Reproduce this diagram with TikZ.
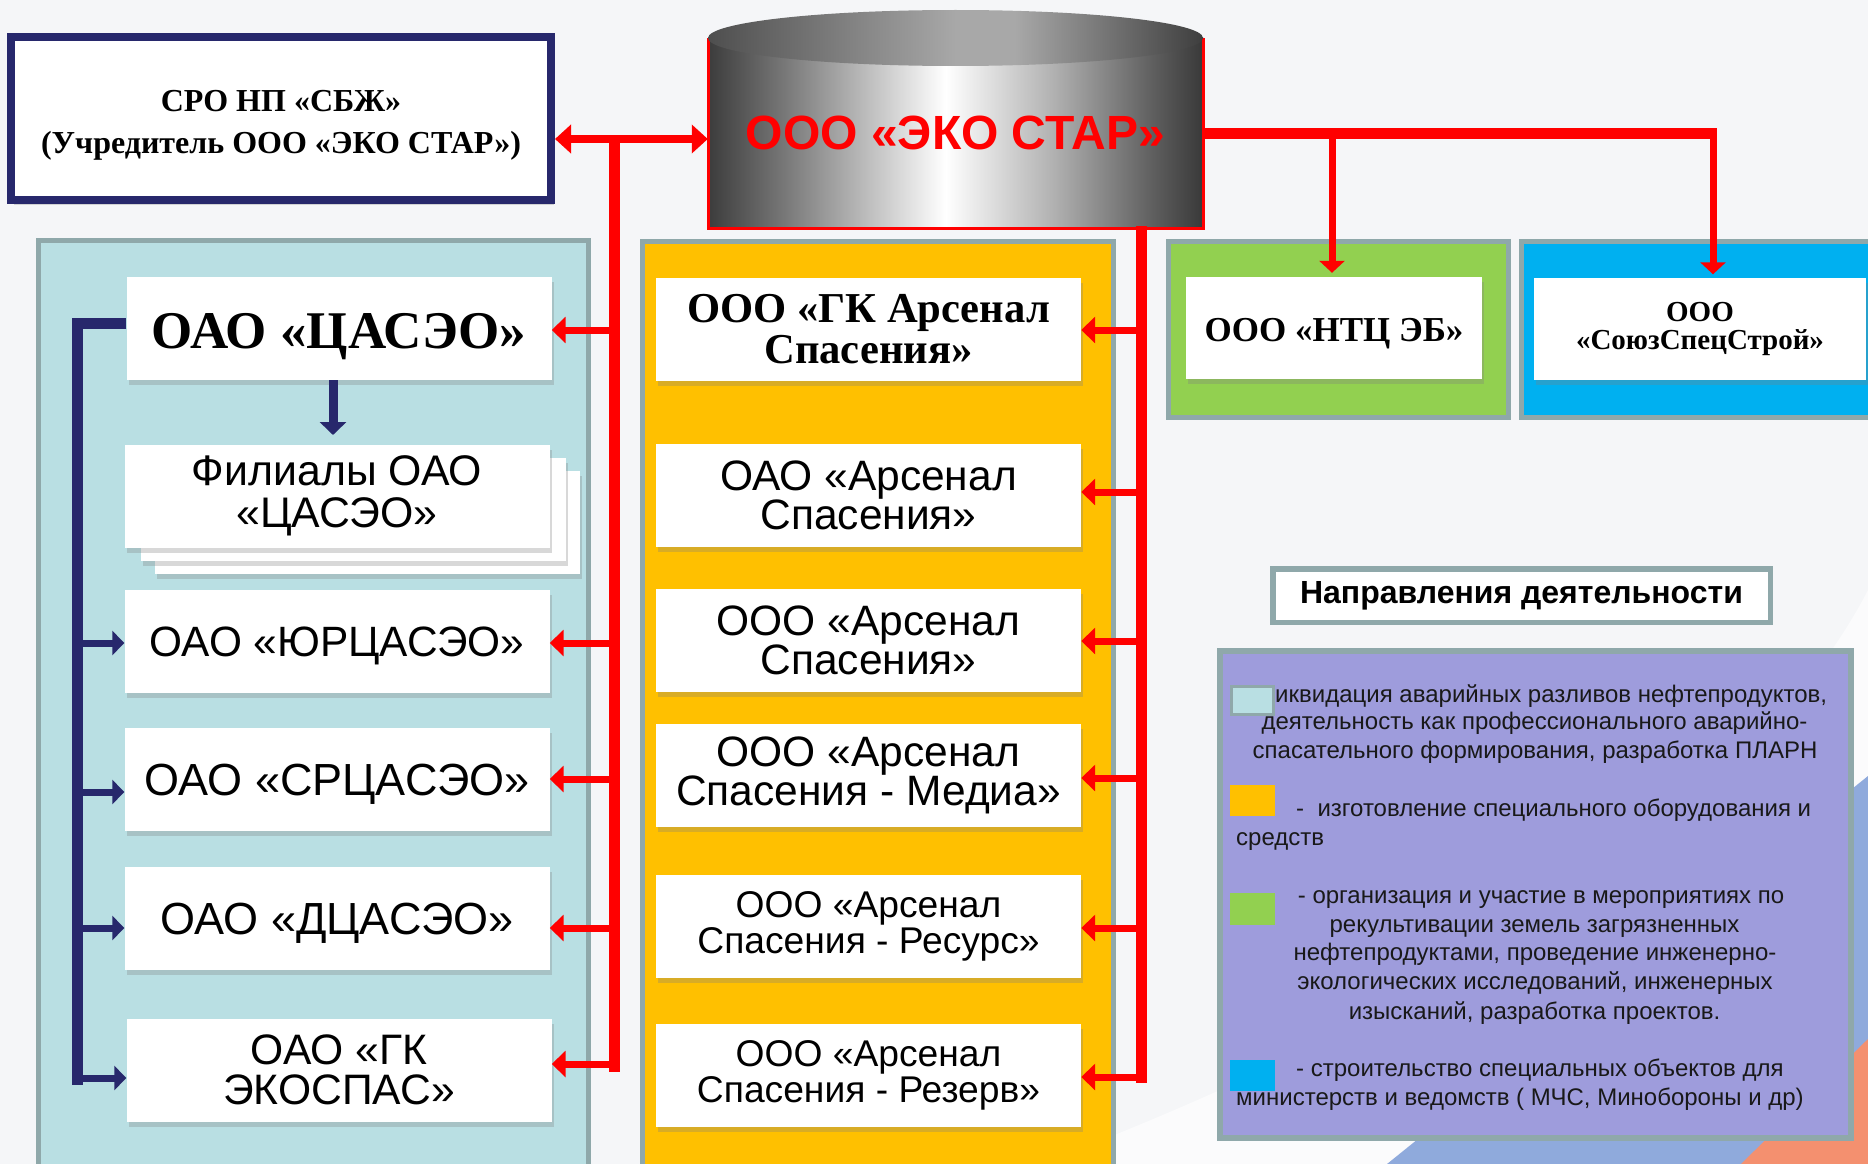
\documentclass[tikz,border=0pt]{standalone}
\usepackage{fontspec}
\setmainfont{Liberation Serif}
\setsansfont{Liberation Sans}
\newfontfamily\tnr{Liberation Serif}
\newfontfamily\ars{Liberation Sans}
\usetikzlibrary{arrows.meta,shadows,calc}
\newcommand{\myfs}[2]{\fontsize{#1}{#2}\selectfont}

\definecolor{cBg}{HTML}{F5F6F8}
\definecolor{cTeal}{HTML}{B9DFE3}
\definecolor{cEdge}{HTML}{8FA8AA}
\definecolor{cOrange}{HTML}{FFC000}
\definecolor{cGreen}{HTML}{92D050}
\definecolor{cBlue}{HTML}{00B0F0}
\definecolor{cLav}{HTML}{9E9CDC}
\definecolor{cNavy}{HTML}{27286C}
\definecolor{cRed}{HTML}{FF0000}
\definecolor{cDecoBlue}{HTML}{8FAADC}
\definecolor{cSalmon}{HTML}{F4906F}
\definecolor{cyA}{HTML}{3C3C3C}
\definecolor{cyB}{HTML}{7A7A7A}
\definecolor{cyC}{HTML}{B0B0B0}
\definecolor{cyD}{HTML}{5E5E5E}
\definecolor{cyE}{HTML}{393939}
\definecolor{tpA}{HTML}{4E4E4E}
\definecolor{tpB}{HTML}{A8A8A8}
\definecolor{tpC}{HTML}{3E3E3E}

\pgfdeclarehorizontalshading{cylbody}{100bp}{color(0bp)=(cyA); color(25bp)=(cyA); color(33bp)=(cyB); color(49bp)=(white); color(60bp)=(cyC); color(70bp)=(cyD); color(75bp)=(cyE); color(100bp)=(cyE)}
\pgfdeclarehorizontalshading{cyltop}{100bp}{color(0bp)=(tpA); color(25bp)=(tpA); color(50bp)=(tpB); color(56bp)=(tpB); color(75bp)=(tpC); color(100bp)=(tpC)}

\begin{document}
\begin{tikzpicture}[x=1pt,y=-1pt,
  panel/.style={draw=cEdge, line width=5pt},
  wbox/.style={fill=white, inner sep=2pt, align=center, minimum width=425pt, minimum height=103pt,
     drop shadow={shadow xshift=2pt, shadow yshift=-5pt, opacity=0.3}},
  redbus/.style={draw=cRed, line width=11pt},
  redbr/.style={draw=cRed, line width=7pt, -{Triangle[length=14pt,width=26pt]}},
  navybus/.style={draw=cNavy, line width=11pt},
  navybr/.style={draw=cNavy, line width=7pt, -{Triangle[length=12pt,width=24pt]}},
  swatch/.style={minimum width=45pt, minimum height=31pt, inner sep=0pt},
  ltxt/.style={inner sep=0pt, font=\ars\myfs{24}{28}, text=black!90}
]
\useasboundingbox (0,0) rectangle (1868,1164);
\fill[cBg] (0,0) rectangle (1868,1164);
% background decoration
\fill[white, opacity=0.6] (1040,1164) .. controls (1450,1010) and (1760,800) .. (1868,590) -- (1868,1164) -- cycle;
\fill[cDecoBlue] (1387,1164) -- (1868,776) -- (1868,1164) -- cycle;
\fill[cSalmon] (1741,1164) -- (1868,1039) -- (1868,1164) -- cycle;

% panels
\draw[panel, fill=cTeal] (38.5,240.5) rectangle (588.5,1180);
\draw[panel, fill=cOrange] (642.5,241.5) rectangle (1113.5,1180);
\draw[panel, fill=cGreen] (1168.5,241.5) rectangle (1508.5,417.5);
\draw[panel, fill=cBlue] (1521.5,241.5) rectangle (1880,417.5);

% cylinder
\shade[shading=cylbody] (708,38) rectangle (1203,228);
\draw[cRed, line width=3pt] (708,38) -- (708,228) -- (1203,228) -- (1203,38);
\shade[shading=cyltop] (955.5,38) ellipse [x radius=247.5, y radius=28];
\node[inner sep=0pt, minimum width=495pt, minimum height=190pt, text=cRed,
      font=\ars\bfseries\myfs{48}{50}] (eco) at (955.5,133) {ООО «ЭКО СТАР»};

% SRO box
\node[draw=cNavy, line width=8pt, fill=white, minimum width=540pt, minimum height=163pt,
      drop shadow={shadow xshift=3pt, shadow yshift=-5pt, opacity=0.3}]
      (sro) at (281,118.5) {};
\node[align=center, font=\tnr\bfseries\myfs{32}{42}] (sroT) at ([yshift=-7pt]sro.center)
      {СРО НП «СБЖ»\\(Учредитель ООО «ЭКО СТАР»)};

% left column
\node[wbox, font=\tnr\bfseries\myfs{53}{55}, text height=40pt, text depth=0pt] (casco) at (339,328.5) {ОАО «ЦАСЭО»};
\node[wbox] (fil3) at (367,522.5) {};
\node[wbox] (fil2) at (353,509.5) {};
\node[wbox, font=\ars\myfs{42.8}{42}] (fil) at (337,496) {Филиалы ОАО\\«ЦАСЭО»};
\node[wbox, font=\ars\myfs{42.4}{44}, text height=30.4pt, text depth=0pt] (yur) at (337,641) {ОАО «ЮРЦАСЭО»};
\node[wbox, font=\ars\myfs{45}{46}, text height=32.2pt, text depth=0pt] (sr) at (337,779) {ОАО «СРЦАСЭО»};
\node[wbox, font=\ars\myfs{45}{48}, text height=32.2pt, text depth=0pt] (dc) at (337,918) {ОАО «ДЦАСЭО»};
\node[wbox, font=\ars\myfs{42.6}{40}] (eko) at (339,1070) {ОАО «ГК\\ЭКОСПАС»};

% middle column
\node[wbox, font=\tnr\bfseries\myfs{42.6}{40.5}] (ar1) at (868.5,329) {ООО «ГК Арсенал\\Спасения»};
\node[wbox, font=\ars\myfs{42.5}{39}] (ar2) at (868.5,495.5) {ОАО «Арсенал\\Спасения»};
\node[wbox, font=\ars\myfs{42.5}{39}] (ar3) at (868.5,640.5) {ООО «Арсенал\\Спасения»};
\node[wbox, font=\ars\myfs{42.5}{39}] (ar4) at (868.5,775.5) {ООО «Арсенал\\Спасения - Медиа»};
\node[wbox, font=\ars\myfs{37.2}{36}] (ar5) at (868.5,926.5) {ООО «Арсенал\\Спасения - Ресурс»};
\node[wbox, font=\ars\myfs{37.2}{36}] (ar6) at (868.5,1075.5) {ООО «Арсенал\\Спасения - Резерв»};

% right boxes
\node[wbox, minimum width=296pt, minimum height=102pt, font=\tnr\bfseries\myfs{35}{38}, text height=27pt, text depth=0pt] (ntc) at (1334,328) {ООО «НТЦ ЭБ»};
\node[wbox, minimum width=332pt, minimum height=102pt, font=\tnr\bfseries\myfs{29}{28}] (ssc) at (1700,328.5) {ООО\\«СоюзСпецСтрой»};

% red connectors
\draw[draw=cRed, line width=8pt, {Triangle[length=16pt,width=28pt]}-{Triangle[length=16pt,width=28pt]}]
  (sro.east |- 0,139) -- (eco.west |- 0,139);
\coordinate (lbtop) at (614,139);
\coordinate (lbbot) at (614,1072);
\draw[redbus] (lbtop) -- (lbbot);
\foreach \n/\y in {casco/330, yur/643, sr/779, dc/928, eko/1064}
  \draw[redbr] (lbtop |- 0,\y) -- (\n.east |- 0,\y);
\coordinate (rbtop) at (1141,226);
\coordinate (rbbot) at (1141,1083);
\draw[redbus] (rbtop) -- (rbbot);
\foreach \n/\y in {ar1/330, ar2/492, ar3/641, ar4/778, ar5/928, ar6/1077}
  \draw[redbr] (rbtop |- 0,\y) -- (\n.east |- 0,\y);
\coordinate (hrend) at (1717,133);
\draw[redbus] (eco.east |- hrend) -- (hrend);
\draw[redbr, -{Triangle[length=12pt,width=25pt]}] (1332,133) -- ($(ntc.north -| 1332,0)+(0,-4)$);
\draw[redbr, -{Triangle[length=12pt,width=25pt]}] (1713,133) -- ($(ssc.north -| 1713,0)+(0,-3)$);

% navy connectors
\draw[navybus] (casco.west |- 0,323) -- (77,323) -- (77,1085);
\foreach \n/\y in {yur/643, sr/792, dc/928, eko/1078}
  \draw[navybr] (77,\y) -- (\n.west |- 0,\y);
\draw[draw=cNavy, line width=9pt, -{Triangle[length=13pt,width=26pt]}] (casco.south -| 333,0) -- (333,435);

% legend
\node[draw=cEdge, line width=5.5pt, fill=white, minimum width=497.5pt, minimum height=53.5pt,
      font=\ars\bfseries\myfs{32}{36}] (ltitle) at (1521.5,595.5) {Направления деятельности};
\node[draw=cEdge, line width=6pt, fill=cLav, minimum width=631pt, minimum height=487pt] (lbox) at (1535.5,894.5) {};

\node[ltxt, anchor=base west] (t1a) at (1275,702) {иквидация аварийных разливов нефтепродуктов,};
\node[ltxt, anchor=base] (t1b) at (1534.5,729) {деятельность как профессионального аварийно-};
\node[ltxt, anchor=base] (t1c) at (1535,758) {спасательного формирования, разработка ПЛАРН};
\node[ltxt, anchor=base west] (t2a) at (1296,816) {-\ \ изготовление специального оборудования и};
\node[ltxt, anchor=base west] (t2b) at (1236,845) {средств};
\node[ltxt, anchor=base] (t3a) at (1541,903) {- организация и участие в мероприятиях по};
\node[ltxt, anchor=base] (t3b) at (1534.5,932) {рекультивации земель загрязненных};
\node[ltxt, anchor=base] (t3c) at (1535,960) {нефтепродуктами, проведение инженерно-};
\node[ltxt, anchor=base] (t3d) at (1535,989) {экологических исследований, инженерных};
\node[ltxt, anchor=base] (t3e) at (1534.5,1019) {изысканий, разработка проектов.};
\node[ltxt, anchor=base west] (t4a) at (1296,1076) {- строительство специальных объектов для};
\node[ltxt, anchor=base west] (t4b) at (1236,1105) {министерств и ведомств ( МЧС, Минобороны и др)};

\node[swatch, fill=cTeal, draw=cEdge, line width=3pt, minimum width=42pt, minimum height=28pt] (s1) at (1252.5,700.5) {};
\node[swatch, fill=cOrange] (s2) at (1252.5,800.5) {};
\node[swatch, fill=cGreen, minimum height=32pt] (s3) at (1252.5,909) {};
\node[swatch, fill=cBlue] (s4) at (1252.5,1075.5) {};
\end{tikzpicture}
\end{document}
